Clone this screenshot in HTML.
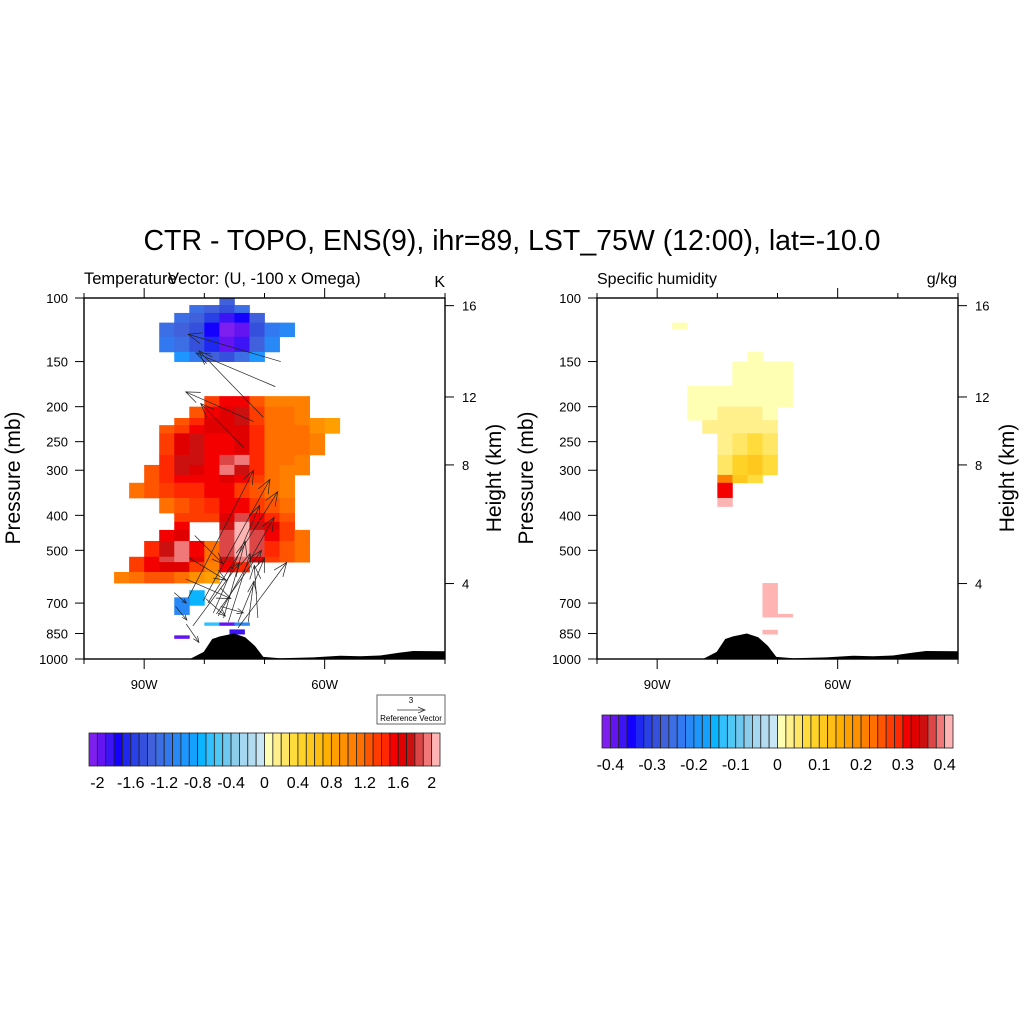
<!DOCTYPE html>
<html><head><meta charset="utf-8"><style>
html,body{margin:0;padding:0;background:#fff;}
svg{display:block;font-family:"Liberation Sans",sans-serif;}
</style></head><body>
<svg id="chart" width="1024" height="1024" viewBox="0 0 1024 1024" xmlns="http://www.w3.org/2000/svg">
<text x="512" y="250" font-size="28.5" text-anchor="middle">CTR - TOPO, ENS(9), ihr=89, LST_75W (12:00), lat=-10.0</text>
<text x="84" y="284" font-size="16.5">Temperature</text>
<text x="168" y="284" font-size="16.5">Vector: (U, -100 x Omega)</text>
<text x="445" y="287" font-size="16" text-anchor="end">K</text>
<text x="597" y="284" font-size="16">Specific humidity</text>
<text x="957" y="284" font-size="16" text-anchor="end">g/kg</text>
<text transform="translate(20,478) rotate(-90)" font-size="21" text-anchor="middle">Pressure (mb)</text>
<text transform="translate(501,478) rotate(-90)" font-size="21" text-anchor="middle">Height (km)</text>
<text transform="translate(533,478) rotate(-90)" font-size="21" text-anchor="middle">Pressure (mb)</text>
<text transform="translate(1014,478) rotate(-90)" font-size="21" text-anchor="middle">Height (km)</text>
<g>
<rect x="377" y="695" width="68" height="29" fill="#fff" stroke="#666" stroke-width="1"/>
<text x="411" y="703" font-size="8" text-anchor="middle">3</text>
<line x1="397" y1="710" x2="425" y2="710" stroke="#333" stroke-width="0.8"/>
<polyline points="418,707 425,710 418,713" fill="none" stroke="#333" stroke-width="0.8"/>
<text x="411" y="721" font-size="8" text-anchor="middle">Reference Vector</text>
</g>
</svg>
<script>
// ---- data ----
const tempColorBins = ["#7f1fef","#6414f0","#3c14f5","#1400ff","#1e28f0","#2840e6","#3550dc","#4060dc","#3c6ee6","#3278f0","#2888f5","#1e96ff","#14a0ff","#0ab4ff","#32c0ff","#50c8f5","#6ec8f0","#8ccdeb","#a5d7f0","#b4dcf0","#c8e6f5",
"#ffffb4","#fff08c","#ffe664","#ffdc3c","#ffd228","#ffc81e","#ffbe14","#ffb000","#ffa000","#ff9000","#ff8000","#ff7000","#ff5500","#ff3c00","#ff2800","#f50000","#e00000","#cc1010","#dc4646","#f07878","#ffb4b4"];
const tempTickLabels = ["-2","-1.6","-1.2","-0.8","-0.4","0","0.4","0.8","1.2","1.6","2"];
const qTickLabels = ["-0.4","-0.3","-0.2","-0.1","0","0.1","0.2","0.3","0.4"];
const pressureTicks = [100,150,200,250,300,400,500,700,850,1000];
const heightTicks = [16,12,8,4];
const heightTickP = [105,188,290,618];
const lonTicks = [-90,-60];
const lonMinorTicks = [-100,-80,-70,-50,-40];
const _ = null;
// temperature rows: [pTop, pBottom], startColumn, values in 0.1 K
const tempRowP = [[100,104.6],[104.6,110],[110,117],[117,128],[128,141],[141,150],
[187,200],[200,215],[215,225],[225,237],[237,272],[272,290],[290,309],[309,325],[325,358],[358,394],[394,417],[417,439],[439,471],[471,521],[521,539],[539,574],[574,616],
[645,710],[675,753],[792,807],[828,853],[860,877]];
const tempRowStart = [9,7,6,5,5,6, 8,7,6,5,5,5,4,4,3,5,6,6,5,4,3,3,2, 7,6,8,9.67,6];
const tempRowValues = [
[-14],[-13,-14,-15,-13],[-13,-14,-16,-19,-18,-14],[-13,-14,-15,-18,-21,-20,-15,-12,-11],[-12,-13,-15,-17,-20,-19,-14,-11],[-10,-12,-14,-15,-13,-10],
[13,15,15,12,10,10,10],
[12,15,16,17,13,11,11,10],
[12,14,16,16,17,13,11,11,10,9,8],
[12,13,15,16,16,16,14,11,11,11,9,8],
[13,16,17,15,15,16,14,11,11,11,10],
[14,17,17,15,18,19,14,11,11,10],
[12,14,17,16,15,19,17,14,11,10,10],
[12,14,15,15,15,16,15,13,11,10],
[11,12,13,14,14,15,15,13,12,11,10],
[11,12,13,14,15,15,13,12,11],
[13,13,13,16,18,15,14,12],
[15,_,_,17,20,17,16,13],
[15,16,_,_,18,20,18,15,13,11],
[14,17,19,15,11,18,20,18,14,12,11],
[13,15,18,19,16,11,17,19,16,13,12,11],
[13,15,16,16,13,10,15,14],
[10,11,12,12,11,9,8],
[-8],[-11],[-7,-20,-11],[-19],[-20]];
// humidity rows: values in 0.01 g/kg
const qRowP = [[117,122],[141,150],[150,175],[175,200],[200,218],[218,237],[237,272],[272,309],[309,325],[325,358],[358,378],[616,750],[750,765],[830,853]];
const qRowStart = [5,10,9,6,6,7,8,8,8,8,8,11,11,11];
const qRowValues = [[1],[1],[1,1,1,1],[1,1,1,1,1,1,1],[1,1,2,2,2,1],[2,3,3,3,2],[3,5,6,4],[4,8,10,6],[20,10,7],[30],[40],[40],[40,40],[40]];
// terrain (lon, surface pressure)
const terrainLon = [-82.4,-80.1,-78.7,-77.4,-75.1,-73.2,-71.6,-70.2,-67.4,-61.9,-57.4,-54.1,-50.8,-47.5,-45.3,-40];
const terrainP = [1000,956,880,866,850,870,920,987,995,990,980,982,978,960,950,952];
// vectors: tail lon/p, head lon/p
const vecTailLon = [-67.3,-68.2,-70.2,-71.8,-73.4,-82.7,-80.2,-79.4,-78.5,-77.7,-76.8,-76.0,-74.4,-81.9,-74.4,-72.7,-71.1,-81.6,-82.5,-83.1,-85.0,-84.8,-83.0,-79.8,-77.3,-78.0];
const vecTailP = [150,176,214,220,260,678,690,700,745,760,770,790,820,810,790,790,770,455,525,600,655,715,800,680,715,750];
const vecHeadLon = [-82.7,-81.4,-80.9,-83.1,-80.6,-71.8,-69.1,-67.8,-70.8,-68.4,-73.2,-72.4,-66.3,-74.1,-70.0,-71.8,-71.7,-76.9,-76.4,-75.6,-83.0,-82.9,-80.9,-76.5,-73.5,-70.5];
const vecHeadP = [126,142,140,182,196,300,318,344,375,405,472,510,540,540,525,610,550,545,605,680,700,780,900,760,745,500];

// ---- helpers ----
const svg = document.getElementById('chart');
const NS = 'http://www.w3.org/2000/svg';
const PW = 361, PT = 298, PH = 361;
function xS(x0, lon){ return x0 + (lon + 100) / 60 * PW; }
function yS(p){ return PT + PH * Math.log10(p / 100); }
function mk(tag, attrs, parent){ const e = document.createElementNS(NS, tag); for (const k in attrs) e.setAttribute(k, attrs[k]); (parent || svg).appendChild(e); return e; }
function tempColor(v){ let b = Math.floor(v + 21); b = Math.max(0, Math.min(41, b)); return tempColorBins[b]; }
function qColor(v){ let b = Math.floor(v / 2 + 21); b = Math.max(0, Math.min(41, b)); return tempColorBins[b]; }

function drawPanel(x0, rowsP, rowsStart, rowsVals, colorFn, hasVectors, pname){
  const g = mk('g', {});
  
  
  rowsP.forEach((rp, i) => {
    const y1 = yS(rp[0]), y2 = yS(rp[1]);
    rowsVals[i].forEach((v, j) => {
      if (v === null) return;
      const c = rowsStart[i] + j;
      const lon0 = -100 + c * 2.5;
      const xa = xS(x0, lon0), xb = xS(x0, lon0 + 2.5);
      const r = mk('rect', {x: xa, y: y1, width: xb - xa + 0.4, height: y2 - y1 + 0.4, fill: colorFn(v)}, g);
      
      
    });
  });
  let pts = [];
  terrainLon.forEach((lon, i) => pts.push(xS(x0, lon).toFixed(1) + ',' + yS(terrainP[i]).toFixed(1)));
  pts.push(xS(x0, -40) + ',' + yS(1000));
  const ter = mk('polygon', {points: pts.join(' '), fill: '#000'}, g);
  
  
  if (hasVectors){
    vecTailLon.forEach((lon, i) => {
      const xa = xS(x0, lon), ya = yS(vecTailP[i]);
      const xb = xS(x0, vecHeadLon[i]), yb = yS(vecHeadP[i]);
      const dx = xb - xa, dy = yb - ya, len = Math.hypot(dx, dy);
      const hl = Math.min(15, 0.3 * len), ang = Math.atan2(dy, dx), ha = 0.38;
      const p1 = (xb - hl*Math.cos(ang-ha)).toFixed(1) + ',' + (yb - hl*Math.sin(ang-ha)).toFixed(1);
      const p2 = (xb - hl*Math.cos(ang+ha)).toFixed(1) + ',' + (yb - hl*Math.sin(ang+ha)).toFixed(1);
      const a = mk('g', {stroke: '#222', 'stroke-width': 0.7, fill: 'none'}, g);
      
      
      mk('line', {x1: xa, y1: ya, x2: xb, y2: yb}, a);
      mk('polyline', {points: p1 + ' ' + xb + ',' + yb + ' ' + p2}, a);
    });
  }
  const fr = mk('rect', {x: x0, y: PT, width: PW, height: PH, fill: 'none', stroke: '#000', 'stroke-width': 1.4});
  
  
  pressureTicks.forEach(p => {
    const y = yS(p);
    mk('line', {x1: x0 - 9, y1: y, x2: x0, y2: y, stroke: '#000', 'stroke-width': 1});
    const t = mk('text', {x: x0 - 16, y: y + 5, 'font-size': 13, 'text-anchor': 'end'});
    t.textContent = p;
    
    
  });
  heightTicks.forEach((h, i) => {
    const y = yS(heightTickP[i]);
    mk('line', {x1: x0 + PW, y1: y, x2: x0 + PW + 9, y2: y, stroke: '#000', 'stroke-width': 1});
    const t = mk('text', {x: x0 + PW + 17, y: y + 5, 'font-size': 13});
    t.textContent = h;
    
    
  });
  lonTicks.forEach(lon => {
    const x = xS(x0, lon);
    mk('line', {x1: x, y1: PT + PH, x2: x, y2: PT + PH + 10, stroke: '#000', 'stroke-width': 1});
    mk('line', {x1: x, y1: PT, x2: x, y2: PT - 10, stroke: '#000', 'stroke-width': 1});
    const t = mk('text', {x: x, y: PT + PH + 30, 'font-size': 13, 'text-anchor': 'middle'});
    t.textContent = Math.abs(lon) + 'W';
    
    
  });
  lonMinorTicks.forEach(lon => {
    const x = xS(x0, lon);
    mk('line', {x1: x, y1: PT + PH, x2: x, y2: PT + PH + 5, stroke: '#000', 'stroke-width': 1});
    mk('line', {x1: x, y1: PT, x2: x, y2: PT - 5, stroke: '#000', 'stroke-width': 1});
  });
}

function drawColorbar(x0, y0, w, h, labels, step, pname){
  const g = mk('g', {});
  
  
  const bw = w / tempColorBins.length;
  tempColorBins.forEach((c, i) => {
    const r = mk('rect', {x: x0 + i*bw, y: y0, width: bw, height: h, fill: c, stroke: '#222', 'stroke-width': 0.8}, g);
    
    
  });
  labels.forEach((l, i) => {
    const t = mk('text', {x: x0 + (1 + i*step)*bw, y: y0 + h + 22, 'font-size': 16, 'text-anchor': 'middle'}, g);
    t.textContent = l;
    
    
  });
}

drawPanel(84, tempRowP, tempRowStart, tempRowValues, tempColor, true, 'temperature');
drawPanel(597, qRowP, qRowStart, qRowValues, qColor, false, 'humidity');
drawColorbar(89, 733, 351, 33, tempTickLabels, 4, 'temperature-colorbar');
drawColorbar(602, 715, 351, 33, qTickLabels, 5, 'humidity-colorbar');
</script>
</body></html>
